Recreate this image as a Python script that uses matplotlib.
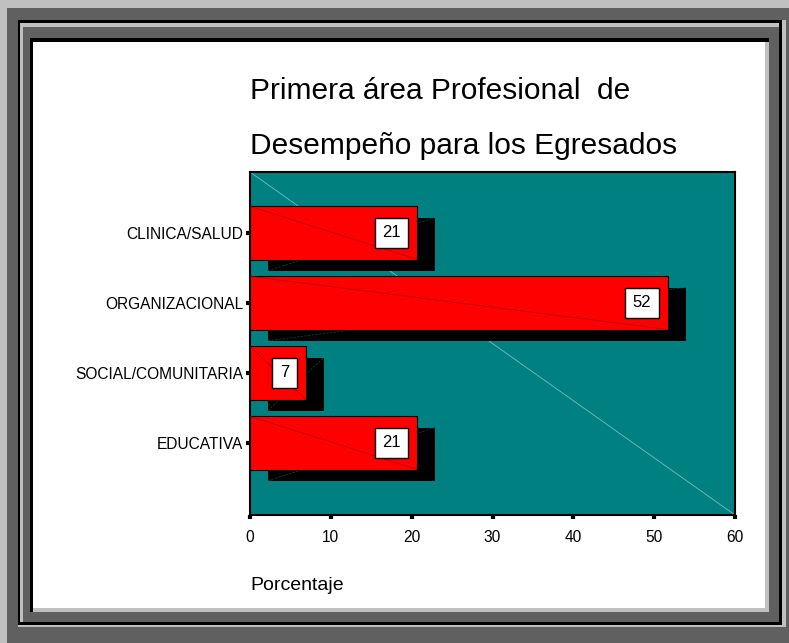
import numpy as np
import matplotlib
matplotlib.use('Agg')
import matplotlib.pyplot as plt
from matplotlib.patches import Rectangle

plt.rcParams['font.family'] = ['Liberation Sans', 'DejaVu Sans']

categorias = ['EDUCATIVA', 'SOCIAL/COMUNITARIA', 'ORGANIZACIONAL', 'CLINICA/SALUD']
porcentaje = [20.7, 6.9, 51.7, 20.7]
etiquetas = ['21', '7', '52', '21']
xticks = [0, 10, 20, 30, 40, 50, 60]

W, H = 789, 643
fig = plt.figure(figsize=(W / 100, H / 100), dpi=100)
fig.patch.set_facecolor('#c0c0c0')


def caja(x0, y0, x1, y1, color):
    # pixel box measured from top-left
    r = Rectangle((x0 / W, 1 - y1 / H), (x1 - x0) / W, (y1 - y0) / H,
                  transform=fig.transFigure, facecolor=color, edgecolor='none', zorder=0)
    fig.add_artist(r)


# marco
caja(7, 8, 789, 643, '#606060')
caja(18, 20, 786, 627, '#c0c0c0')
caja(18, 20, 782, 625, '#000000')
caja(20, 23, 779, 622, '#c0c0c0')
caja(23, 27, 779, 622, '#606060')
caja(30, 38, 769, 612, '#000000')
caja(33, 42, 769, 612, '#c0c0c0')
caja(33, 42, 765, 608, '#ffffff')

ax = fig.add_axes([250 / W, 1 - 515 / H, 485 / W, 343 / H])
ax.set_facecolor('#008080')
ax.plot([0, 1], [1, 0], transform=ax.transAxes, color='#70c0c0', lw=0.6, zorder=1)

y = np.arange(len(categorias))
alto = 0.76
ax.barh(y - 0.16, porcentaje, left=2.2, height=alto, color='black', zorder=2)
ax.barh(y, porcentaje, height=alto, color='#ff0000', edgecolor='black', lw=0.8, zorder=3)

for yi, v, t in zip(y, porcentaje, etiquetas):
    ax.plot([0, v], [yi + alto / 2, yi - alto / 2], color='#b00000', lw=0.5, zorder=4)
    ax.plot([2.2, v + 2.2], [yi - 0.16 - alto / 2, yi - 0.16 + alto / 2],
            color='#004848', lw=0.5, ls='--', zorder=2.5)
    ax.text(v - 2.05, yi, t, ha='right', va='center', fontsize=12, zorder=5,
            bbox=dict(boxstyle='square,pad=0.45', facecolor='white', edgecolor='black', lw=1))

ax.set_xlim(0, 60)
ax.set_ylim(-1.03, 3.87)
ax.set_xticks(xticks)
ax.set_yticks(y)
ax.set_yticklabels(categorias)
ax.tick_params(axis='both', direction='out', length=3, width=3, labelsize=11.2, colors='black')
ax.tick_params(axis='x', pad=8)
ax.tick_params(axis='y', pad=2)
for s in ax.spines.values():
    s.set_linewidth(1.5)
    s.set_color('black')

fig.text(250 / W, 1 - 91 / H, 'Primera área Profesional  de', fontsize=21.5, ha='left', va='center')
fig.text(250 / W, 1 - 146 / H, 'Desempeño para los Egresados', fontsize=21.5, ha='left', va='center')
fig.text(250 / W, 1 - 586 / H, 'Porcentaje', fontsize=14, ha='left', va='center')

fig.savefig('out.png', dpi=100, facecolor=fig.get_facecolor())
